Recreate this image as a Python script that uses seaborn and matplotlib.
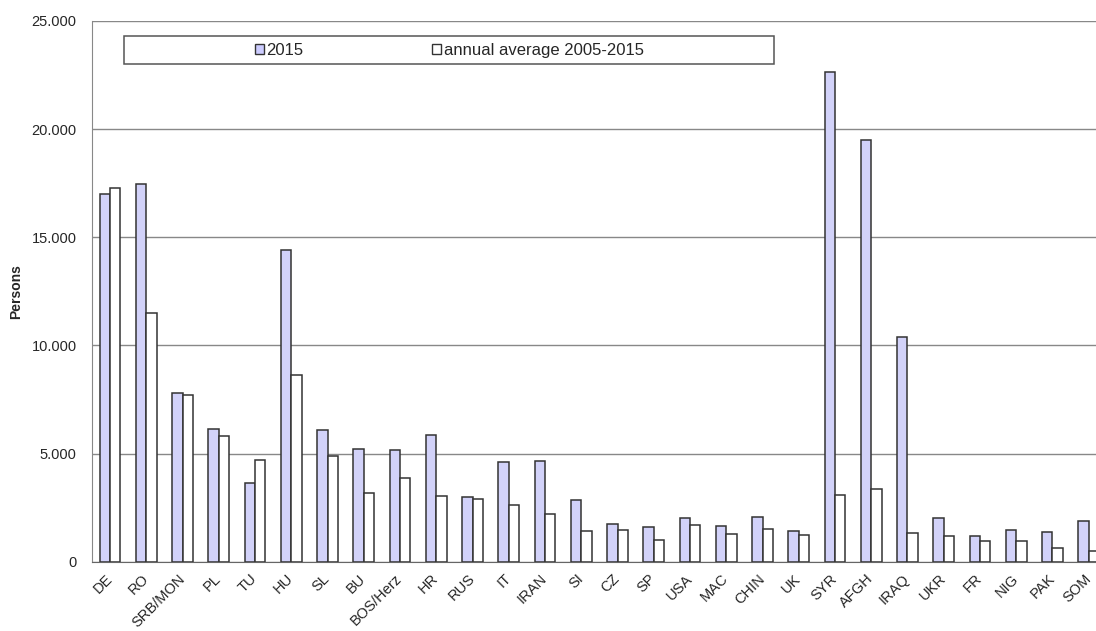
import matplotlib
matplotlib.use("Agg")
import matplotlib.pyplot as plt
import matplotlib.patches as mpatches
import matplotlib.transforms as mtransforms
from matplotlib.ticker import FuncFormatter, FixedLocator
import numpy as np
import pandas as pd
import seaborn as sns

# ─── DATA ────────────────────────────────────────────────────────────────────
countries = ["DE", "RO", "SRB/MON", "PL", "TU", "HU", "SL", "BU", "BOS/Herz", "HR",
             "RUS", "IT", "IRAN", "SI", "CZ", "SP", "USA", "MAC", "CHIN", "UK",
             "SYR", "AFGH", "IRAQ", "UKR", "FR", "NIG", "PAK", "SOM"]
persons_2015 = [17020, 17440, 7810, 6130, 3660, 14420, 6100, 5210, 5180, 5870,
                2970, 4590, 4670, 2840, 1760, 1600, 2000, 1650, 2070, 1400,
                22620, 19490, 10400, 2000, 1190, 1480, 1360, 1870]
persons_avg = [17260, 11500, 7720, 5820, 4680, 8640, 4870, 3170, 3850, 3020,
               2910, 2600, 2190, 1420, 1460, 990, 1680, 1270, 1500, 1230,
               3080, 3340, 1310, 1190, 970, 940, 650, 480]
series_names = ["2015", "annual average 2005-2015"]
series_colors = ["#CCCCFF", "#FFFFFF"]

df = pd.DataFrame({
    "country": countries * 2,
    "persons": persons_2015 + persons_avg,
    "series": [series_names[0]] * len(countries) + [series_names[1]] * len(countries),
})

# ─── PLOT ────────────────────────────────────────────────────────────────────
sns.set_style("white")
plt.rcParams["font.family"] = ["Liberation Sans", "DejaVu Sans"]

fig = plt.figure(figsize=(10.96, 6.31), dpi=100)
# plot area runs slightly past the right edge (the source image is cropped there)
ax = fig.add_axes([0.0839, 0.1098, 0.926, 0.857])

sns.barplot(data=df, x="country", y="persons", hue="series", order=countries,
            hue_order=series_names, palette=series_colors,
            width=0.57, gap=0, edgecolor="#333333", linewidth=1.1,
            errorbar=None, legend=False, ax=ax)

n = len(countries)
ax.set_xlim(-0.5, n - 0.5)
ax.set_ylim(0, 25000)
ax.set_yticks(np.arange(0, 25001, 5000))
ax.yaxis.set_major_formatter(FuncFormatter(lambda v, p: f"{v:,.0f}".replace(",", ".")))
ax.grid(axis="y", color="#888888", linewidth=1.0)
ax.set_axisbelow(True)

# category boundary ticks, Excel style
ax.xaxis.set_minor_locator(FixedLocator(np.arange(-0.5, n, 1.0)))
ax.set_xticks(range(n))
ax.set_xticklabels(countries, rotation=45, ha="right", rotation_mode="anchor", fontsize=10.5)
ax.tick_params(axis="x", which="major", length=0, pad=7)
ax.tick_params(axis="x", which="minor", length=4, width=1, color="#888888", direction="out")
ax.tick_params(axis="y", length=4, width=1, color="#888888", direction="out",
               labelsize=10.5, pad=7)

# nudge the rotated labels a few pixels left, like the source
shift = mtransforms.ScaledTranslation(-5 / 100, 0, fig.dpi_scale_trans)
for lab in ax.get_xticklabels():
    lab.set_transform(lab.get_transform() + shift)

ax.set_xlabel("")
ax.set_ylabel("Persons", fontsize=10, fontweight="bold")
ax.yaxis.set_label_coords(-0.0675, 0.5)

for side in ["top", "right"]:
    ax.spines[side].set_visible(False)
ax.spines["left"].set_color("#888888")
ax.spines["bottom"].set_color("#666666")

# legend in a box near the top
handles = [mpatches.Patch(facecolor=c, edgecolor="#333333", linewidth=1)
           for c in series_colors]
ax.add_patch(mpatches.Rectangle((0.0315, 0.920), 0.641, 0.052, transform=ax.transAxes,
                                facecolor="white", edgecolor="#555555", linewidth=1.1, zorder=5))
leg = ax.legend(handles, series_names, loc="center", bbox_to_anchor=(0.352, 0.946),
                ncol=2, frameon=False, fontsize=12, handlelength=0.55, handleheight=0.55,
                handletextpad=0.15, columnspacing=7.7, borderpad=0)
leg.set_zorder(6)

plt.savefig("out.png", dpi=100)
plt.close()
